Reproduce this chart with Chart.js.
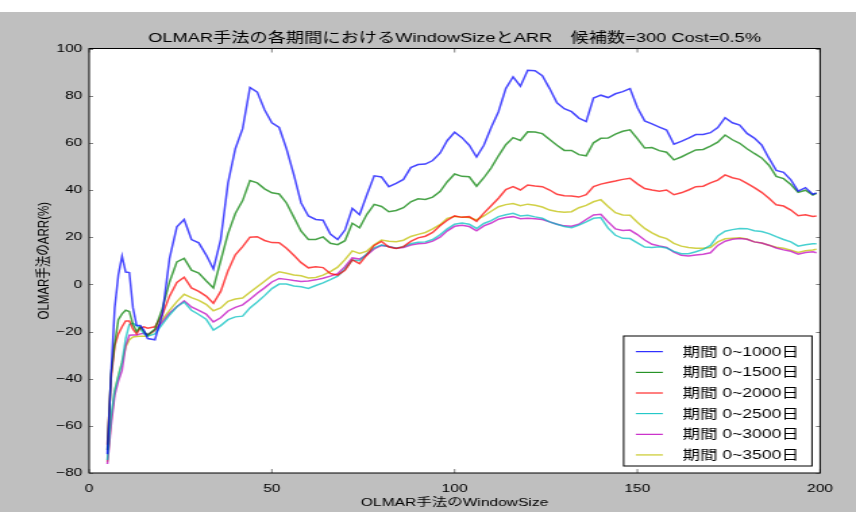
<!DOCTYPE html>
<html lang="ja">
<head>
<meta charset="UTF-8">
<title>OLMAR WindowSize と ARR</title>
<script src="https://cdn.jsdelivr.net/npm/chart.js"></script>
<style>
  html, body { margin: 0; padding: 0; background: #fff; }
  canvas { display: block; }
</style>
</head>
<body>
<!-- drawn narrower and stretched sideways, like the original picture -->
<canvas id="chart" width="634" height="512" style="width:856px;height:512px"></canvas>
<script>
const windowSizes = [5, 6, 7, 8, 9, 10, 11, 12, 13, 14, 15, 16,
  18, 20, 22, 24, 26, 28, 30, 32, 34, 36,
  38, 40, 42, 44, 46, 48, 50, 52, 54, 56,
  58, 60, 62, 64, 66, 68, 70, 72, 74, 76,
  78, 80, 82, 84, 86, 88, 90, 92, 94, 96,
  98, 100, 102, 104, 106, 108, 110, 112, 114, 116,
  118, 120, 122, 124, 126, 128, 130, 132, 134, 136,
  138, 140, 142, 144, 146, 148, 150, 152, 154, 156,
  158, 160, 162, 164, 166, 168, 170, 172, 174, 176,
  178, 180, 182, 184, 186, 188, 190, 192, 194, 196,
  198, 199];

const arr1000 = [-72, -38, -10, 4, 12, 5.2, 5, -10, -17.5, -17.5, -19.5, -23,
  -23.5, -13, 11, 24.4, 27.5, 19, 17.6, 12.5, 6.5, 19,
  43, 57.5, 66, 83.5, 81.5, 74, 68.5, 66.5, 57.5, 46.5,
  34.5, 29, 27.5, 27.2, 21.3, 19, 23, 32.2, 29.5, 38,
  46, 45.5, 41.4, 42.8, 44.5, 49.5, 50.8, 51, 52.5, 55.6,
  61, 64.5, 62.2, 59, 54, 59, 66.5, 73.2, 83, 88,
  84, 90.8, 90.6, 88.5, 83, 77, 74.5, 73.2, 70.5, 69,
  79, 80.2, 79.2, 80.8, 81.7, 83, 75, 69.3, 68, 66.7,
  65.4, 59.4, 60.6, 62, 63.5, 63.5, 64.3, 66.5, 70.7, 68.5,
  67.5, 64, 62, 59.1, 53.5, 48.3, 47.5, 44.3, 39.5, 41,
  38.2, 38.8];

const arr1500 = [-70.3, -38, -25, -15, -12.5, -11, -11.5, -17, -20, -18, -20, -21.5,
  -19, -10.5, 1, 9.5, 11, 6, 4.8, 1.5, -1.5, 10,
  21.5, 30, 35.5, 44, 43, 40.5, 38.8, 38.3, 34.5, 28.5,
  22.5, 19, 19, 20.1, 17.4, 16.8, 18.5, 25.9, 24, 29.7,
  33.9, 33, 30.8, 31.3, 32.5, 35, 36.3, 36, 37, 39.3,
  43.5, 46.8, 45.8, 45.6, 41.6, 45.2, 49.4, 54.5, 59.2, 62.2,
  61, 64.7, 64.6, 63.9, 61.4, 59, 56.8, 56.8, 55, 54.5,
  60, 61.9, 62, 63.7, 64.9, 65.5, 61.8, 57.8, 58, 56.7,
  56, 52.8, 54, 55.5, 57, 57.2, 58.6, 60.3, 63.3, 61.3,
  59.8, 57.5, 55.5, 53.6, 50.5, 45.8, 44.8, 42.3, 39, 39.9,
  37.9, 38.6];

const arr2000 = [-68, -40, -26, -21, -18, -15.5, -15.5, -19, -21, -18.5, -18, -18.6,
  -18, -13, -5, 0.8, 3, -1.5, -3, -5, -8, -3,
  5.8, 12.5, 16, 20, 20.2, 18.6, 17.7, 17.6, 15.3, 12.3,
  9.2, 7, 7.5, 7.1, 4.6, 3.9, 6, 10.4, 8.8, 12.5,
  16.5, 18.2, 15.8, 15.2, 16, 18.2, 19.7, 20.4, 22, 24.8,
  27.2, 29, 28.4, 28.7, 26.7, 30.2, 33.3, 36.5, 40.2, 41.4,
  40, 42.1, 41.7, 41.4, 40, 38.2, 37.6, 37.5, 37, 38,
  41.4, 42.5, 43.2, 43.8, 44.5, 45, 42.6, 40.6, 40, 39.5,
  40, 38, 38.8, 40, 41.4, 41.6, 43, 44.2, 46.4, 45.2,
  44.5, 42.8, 41, 39, 36.5, 33.7, 33.2, 31.5, 29.1, 29.5,
  28.8, 29];

const arr2500 = [-74.5, -56, -45, -39, -33, -23, -17, -16.5, -17.5, -18.8, -21, -22,
  -21, -17, -13, -9.5, -7.5, -11, -12.8, -14.8, -19.4, -17.5,
  -15, -13.8, -13.5, -10, -7.5, -4.8, -1.8, 0.1, 0.1, -0.7,
  -1, -1.7, -0.5, 0.6, 2, 3.5, 6.5, 10.3, 10, 13,
  15.5, 16.7, 16, 15.3, 16, 17.2, 17.8, 18, 19, 21,
  23.5, 25.5, 26, 25.5, 23.7, 25.8, 27, 28.7, 29.5, 30.1,
  29, 29.3, 28.6, 28, 26.5, 25.5, 24.5, 24, 25.1, 26.5,
  28, 28.3, 23.8, 20.8, 19.5, 19.4, 17.6, 15.8, 15.6, 15.9,
  15.4, 14, 13, 13, 13.8, 14.8, 16.5, 20.5, 22.5, 23.2,
  23.7, 23.6, 22.7, 22.4, 21.5, 20.2, 19, 18, 16.2, 16.8,
  17.2, 17.2];

const arr3000 = [-76.2, -60, -47, -41, -36.5, -26, -21.6, -21.5, -21.5, -21, -20.8, -21.3,
  -19.5, -16, -12.2, -9.5, -7, -9.6, -11, -12.6, -15.9, -14.2,
  -11.3, -9.8, -8.7, -6.3, -3.8, -1.5, 1, 2.5, 2.1, 1.6,
  1.2, 1.4, 1.9, 2.6, 3.5, 4.5, 7.5, 11.2, 10.7, 12.5,
  15, 16.5, 16, 15.3, 15.6, 16.7, 17.2, 17.4, 18.3, 20,
  22.7, 24.6, 25, 24.5, 22.7, 24.8, 26, 27.6, 28.3, 28.7,
  27.8, 28, 27.8, 27.5, 26.5, 25.5, 24.8, 24.6, 25.5, 27.5,
  29.4, 29.7, 26.5, 23.5, 22.8, 23, 21.1, 18.8, 17, 16.3,
  15.7, 13.6, 12.3, 12, 12.4, 12.8, 13.4, 16.5, 18.3, 19.1,
  19.4, 19.1, 18, 17.5, 16.6, 15.4, 14.6, 14, 12.8, 13.5,
  13.8, 13.4];

const arr3500 = [-75.2, -58, -45, -38.5, -33, -26.5, -23.5, -22.3, -22.1, -22, -22, -22,
  -19.5, -15, -11, -7.3, -4.2, -5.6, -6.8, -8.5, -11.2, -10,
  -7.2, -6.2, -5.8, -3.4, -1, 1.3, 3.7, 5.3, 4.7, 4,
  3.6, 2.7, 2.9, 3.9, 5.4, 7.3, 10.5, 14.2, 13.1, 14.1,
  16.8, 18.8, 18.3, 18.1, 18.7, 20.3, 21.2, 22, 23.5, 25.3,
  28, 28.8, 28.5, 28.3, 27.3, 29, 31, 32.9, 33.8, 34.3,
  33.3, 34, 33.5, 32.8, 31.5, 30.9, 30.6, 30.8, 32.5, 33.5,
  35, 35.9, 33, 30.4, 29.4, 29.3, 26.3, 23.7, 21.8, 20.3,
  19.4, 17.4, 16.2, 15.6, 15.3, 15.3, 15.6, 18, 19.3, 19.5,
  19.7, 19.2, 18, 17.5, 16.6, 15.7, 15.3, 14.5, 13.5, 14.2,
  14.6, 14.9];

const seriesLabels = ['期間 0~1000日', '期間 0~1500日', '期間 0~2000日',
  '期間 0~2500日', '期間 0~3000日', '期間 0~3500日'];
const xTicks = [0, 50, 100, 150, 200];
const yTicks = [-80, -60, -40, -20, 0, 20, 40, 60, 80, 100];

const seriesValues = [arr1000, arr1500, arr2000, arr2500, arr3000, arr3500];
const lineColors = ['#0000ff', '#008000', '#ff0000', '#00bfbf', '#bf00bf', '#bfbf00'];
const FONT = "'Liberation Sans', 'Noto Sans CJK JP', sans-serif";

function fade(hex, a) {
  const n = parseInt(hex.slice(1), 16);
  return `rgba(${n >> 16}, ${(n >> 8) & 255}, ${n & 255}, ${a})`;
}

// grey figure background, white axes area
const backdrop = {
  id: 'backdrop',
  beforeDraw(chart) {
    const {ctx, width, height, chartArea: a} = chart;
    ctx.save();
    ctx.fillStyle = '#ffffff';
    ctx.fillRect(0, 0, width, height);
    ctx.fillStyle = '#bfbfbf';
    ctx.fillRect(0, 12, width, height - 12);
    ctx.fillStyle = '#ffffff';
    ctx.fillRect(a.left, a.top, a.right - a.left, a.bottom - a.top);
    ctx.restore();
  }
};

// frame, inward ticks and the boxed legend
const frame = {
  id: 'frame',
  afterDraw(chart) {
    const {ctx, chartArea: a, scales} = chart;
    ctx.save();
    ctx.strokeStyle = '#808080';
    ctx.lineWidth = 1;
    ctx.beginPath();
    yTicks.forEach(v => {
      const y = Math.round(scales.y.getPixelForValue(v)) + 0.5;
      ctx.moveTo(a.left, y); ctx.lineTo(a.left + 3, y);
      ctx.moveTo(a.right, y); ctx.lineTo(a.right - 3, y);
    });
    xTicks.forEach(v => {
      const x = scales.x.getPixelForValue(v);
      ctx.moveTo(x, a.bottom); ctx.lineTo(x, a.bottom - 4);
      ctx.moveTo(x, a.top); ctx.lineTo(x, a.top + 4);
    });
    ctx.stroke();

    ctx.strokeStyle = '#000000';
    ctx.strokeRect(a.left, a.top, a.right - a.left, a.bottom - a.top);

    // legend
    const w = 139.5, h = 130;
    const bx = a.right - 6 - w, by = a.bottom - 7 - h;
    ctx.fillStyle = '#ffffff';
    ctx.fillRect(bx, by, w, h);
    ctx.strokeStyle = '#000000';
    ctx.strokeRect(bx, by, w, h);
    ctx.font = '13px ' + FONT;
    ctx.textBaseline = 'middle';
    ctx.textAlign = 'left';
    chart.data.datasets.forEach((ds, i) => {
      const y = by + 15.7 + i * 20.65;
      ctx.strokeStyle = lineColors[i];
      ctx.lineWidth = 1;
      ctx.beginPath();
      ctx.moveTo(bx + 9, y);
      ctx.lineTo(bx + 29, y);
      ctx.stroke();
      ctx.fillStyle = '#000000';
      ctx.fillText(ds.label, bx + 43.5, y + 0.5);
    });
    ctx.restore();
  }
};

new Chart(document.getElementById('chart'), {
  type: 'line',
  data: {
    datasets: seriesLabels.map((label, i) => ({
      label: label,
      data: windowSizes.map((w, j) => ({x: w, y: seriesValues[i][j]})),
      borderColor: fade(lineColors[i], 0.72),
      borderWidth: 1.5,
      pointRadius: 0,
      fill: false,
      tension: 0
    }))
  },
  options: {
    responsive: false,
    animation: false,
    devicePixelRatio: 1,
    layout: {padding: {left: 0, right: 26.6, top: 0, bottom: 0}},
    plugins: {
      legend: {display: false},
      tooltip: {enabled: false},
      title: {
        display: true,
        fullSize: false,
        text: 'OLMAR手法の各期間におけるWindowSizeとARR　候補数=300 Cost=0.5%',
        color: '#000000',
        font: {family: FONT, size: 13.5, weight: 'normal'},
        padding: {top: 30.4, bottom: 1.9}
      }
    },
    scales: {
      x: {
        type: 'linear',
        min: 0,
        max: 200,
        afterBuildTicks: s => { s.ticks = xTicks.map(v => ({value: v})); },
        afterFit: s => { s.height = 39; },
        grid: {display: false, drawTicks: false},
        border: {display: false},
        ticks: {color: '#000000', padding: 9, maxRotation: 0,
          font: {family: FONT, size: 11.5}},
        title: {display: true, text: 'OLMAR手法のWindowSize', color: '#000000',
          font: {family: FONT, size: 11.5}, padding: {top: 0, bottom: 2.6}}
      },
      y: {
        min: -80,
        max: 100,
        afterBuildTicks: s => { s.ticks = yTicks.map(v => ({value: v})); },
        afterFit: s => { s.width = 66; },
        grid: {display: false, drawTicks: false},
        border: {display: false},
        ticks: {color: '#000000', padding: 5,
          font: {family: FONT, size: 11.5},
          callback: v => String(v).replace('-', '\u2212')},
        title: {display: true, text: 'OLMAR手法のARR(%)', color: '#000000',
          font: {family: FONT, size: 11.5}, padding: {top: 26.4, bottom: 0}}
      }
    }
  },
  plugins: [backdrop, frame]
});
</script>
</body>
</html>
